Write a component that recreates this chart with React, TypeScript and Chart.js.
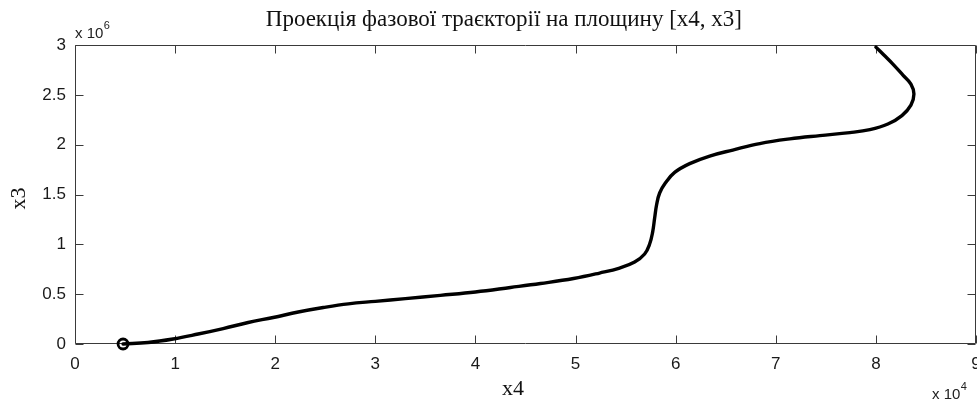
import React, { useEffect, useRef } from 'react';
import { Chart, registerables } from 'chart.js';

Chart.register(...registerables);

// Phase trajectory projection (x4 horizontal, x3 vertical)
const x4Values = [4800, 7300, 9800, 12300, 14800, 17300, 19800, 22300, 24800, 27300, 30000, 33000, 36500, 40000, 43500, 46500, 49800, 52400, 54400, 55900, 56900, 57400, 57700, 57900, 58100, 58400, 59000, 59900, 61400, 63400, 65700, 68400, 71400, 74400, 77400, 79400, 81200, 82600, 83500, 83800, 83500, 82700, 81700, 80800, 80000];
const x3Values = [0, 15000, 50000, 100000, 155000, 216000, 266000, 321000, 366000, 403000, 428000, 455000, 488000, 522000, 567000, 607000, 657000, 712000, 762000, 822000, 903000, 1003000, 1123000, 1264000, 1400000, 1515000, 1620000, 1722000, 1810000, 1886000, 1946000, 2011000, 2058000, 2091000, 2121000, 2151000, 2207000, 2292000, 2397000, 2508000, 2608000, 2698000, 2808000, 2899000, 2979000];

const xMin = 0;
const xMax = 90000;
const xStep = 10000;
const xExponent = 4;
const yMin = 0;
const yMax = 3000000;
const yStep = 500000;
const yExponent = 6;

const titleText = 'Проекція фазової траєкторії на площину [x4, x3]';
const xLabel = 'x4';
const yLabel = 'x3';

const framePlugin = {
  id: 'matlabFrame',
  beforeDatasetsDraw(chart: any) {
    const { ctx, chartArea: a, scales } = chart;
    const L = Math.round(a.left) + 0.5;
    const R = Math.round(a.right) - 0.5;
    const T = Math.round(a.top) + 0.5;
    const B = Math.round(a.bottom) - 0.5;
    ctx.save();
    ctx.strokeStyle = '#3a3a3a';
    ctx.lineWidth = 1;
    ctx.beginPath();
    ctx.moveTo(L, T); ctx.lineTo(R, T); ctx.lineTo(R, B); ctx.lineTo(L, B); ctx.closePath();
    ctx.stroke();
    const tl = 8;
    ctx.beginPath();
    for (const t of scales.x.ticks) {
      const px = Math.round(scales.x.getPixelForValue(t.value)) + 0.5;
      ctx.moveTo(px, B); ctx.lineTo(px, B - tl);
      ctx.moveTo(px, T); ctx.lineTo(px, T + tl);
    }
    for (const t of scales.y.ticks) {
      const py = Math.round(scales.y.getPixelForValue(t.value)) + 0.5;
      ctx.moveTo(L, py); ctx.lineTo(L + tl, py);
      ctx.moveTo(R, py); ctx.lineTo(R - tl, py);
    }
    ctx.stroke();
    ctx.restore();
  },
  afterDraw(chart: any) {
    const { ctx, chartArea: a } = chart;
    const w = a.right - a.left;
    ctx.save();
    ctx.fillStyle = '#111';
    // title
    ctx.font = '23px "Liberation Serif"';
    ctx.textAlign = 'center';
    ctx.textBaseline = 'alphabetic';
    ctx.fillText(titleText, a.left + w * 0.476, a.top - 19);
    // x label
    ctx.font = '22px "Liberation Serif"';
    ctx.fillText(xLabel, a.left + w * 0.486, a.bottom + 51);
    // y label
    ctx.save();
    ctx.translate(a.left - 56, (a.top + a.bottom) / 2 + 4);
    ctx.rotate(-Math.PI / 2);
    ctx.textBaseline = 'middle';
    ctx.fillText(yLabel, 0, 0);
    ctx.restore();
    // exponents
    ctx.textAlign = 'left';
    ctx.font = '15px "Liberation Sans"';
    ctx.fillStyle = '#222';
    ctx.fillText('x 10', a.left, a.top - 7);
    let wx = ctx.measureText('x 10').width;
    ctx.font = '11px "Liberation Sans"';
    ctx.fillText(String(yExponent), a.left + wx + 0.5, a.top - 16);
    ctx.font = '15px "Liberation Sans"';
    ctx.fillText('x 10', a.right - 44, a.bottom + 55);
    wx = ctx.measureText('x 10').width;
    ctx.font = '11px "Liberation Sans"';
    ctx.fillText(String(xExponent), a.right - 44 + wx + 0.5, a.bottom + 46);
    ctx.restore();
  },
};

export default function App() {
  const ref = useRef<HTMLCanvasElement | null>(null);

  useEffect(() => {
    document.body.style.margin = '0';
    document.body.style.background = '#fff';
    const canvas = ref.current;
    if (!canvas) return;
    const points = x4Values.map((x, i) => ({ x, y: x3Values[i] }));
    const chart = new Chart(canvas, {
      type: 'scatter',
      data: {
        datasets: [
          {
            data: points,
            showLine: true,
            borderColor: '#000',
            backgroundColor: '#000',
            borderWidth: 3.4,
            pointRadius: 0,
            tension: 0.4,
            borderCapStyle: 'round',
            borderJoinStyle: 'round',
            clip: false as any,
            order: 2,
          },
          {
            data: [points[0]],
            showLine: false,
            pointRadius: 5,
            pointBorderWidth: 2.8,
            pointBorderColor: '#000',
            pointBackgroundColor: 'rgba(255,255,255,0)',
            clip: false as any,
            order: 1,
          },
        ],
      },
      options: {
        responsive: false,
        animation: false,
        devicePixelRatio: 1,
        layout: { padding: { top: 45, right: 14, bottom: 0, left: 0 } },
        plugins: {
          legend: { display: false },
          tooltip: { enabled: false },
          title: { display: false },
        },
        scales: {
          x: {
            type: 'linear',
            min: xMin,
            max: xMax,
            grid: { display: false, drawTicks: false, tickLength: 0 },
            border: { display: false },
            ticks: {
              stepSize: xStep,
              padding: 10,
              color: '#1a1a1a',
              font: { family: '"Liberation Sans"', size: 17 },
              maxRotation: 0,
              autoSkip: false,
              callback: (v: any) => String(Math.round(Number(v) / Math.pow(10, xExponent))),
            },
            afterFit: (s: any) => { s.height = 57; s.paddingLeft = 0; s.paddingRight = 0; },
          },
          y: {
            type: 'linear',
            min: yMin,
            max: yMax,
            grid: { display: false, drawTicks: false, tickLength: 0 },
            border: { display: false },
            ticks: {
              stepSize: yStep,
              padding: 9,
              color: '#1a1a1a',
              font: { family: '"Liberation Sans"', size: 17 },
              autoSkip: false,
              callback: (v: any) => String(Number(v) / Math.pow(10, yExponent)),
            },
            afterFit: (s: any) => { s.width = 75; s.paddingTop = 0; s.paddingBottom = 0; },
          },
        },
      },
      plugins: [framePlugin],
    });
    return () => chart.destroy();
  }, []);

  return (
    <div style={{ position: 'fixed', left: 0, top: 0, width: 977, height: 401, overflow: 'hidden', background: '#fff' }}>
      <canvas ref={ref} width={990} height={401} style={{ width: 990, height: 401, display: 'block' }} />
    </div>
  );
}
